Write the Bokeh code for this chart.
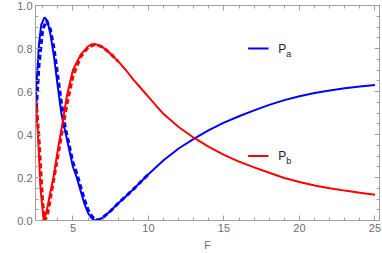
from bokeh.plotting import figure
from bokeh.models import LinearAxis, Range1d, Label, FixedTicker
from bokeh.embed import file_html
from bokeh.resources import INLINE

# ---- data ----
F_a = [2.52, 2.6, 2.75, 2.9, 3.12, 3.3, 3.5, 3.75, 4.0, 4.25, 4.5, 4.75, 5.0, 5.25, 5.5, 5.75,
       6.0, 6.25, 6.5, 6.75, 7.0, 7.5, 8.0, 8.5, 9.0, 9.5, 10, 11, 12, 13, 14, 15, 16, 17, 18,
       19, 20, 21, 22, 23, 24, 25]
Pa = [0.55, 0.65, 0.82, 0.91, 0.945, 0.93, 0.87, 0.76, 0.62, 0.49, 0.41, 0.33, 0.25, 0.20, 0.14, 0.08,
      0.035, 0.01, 0.0, 0.005, 0.015, 0.045, 0.08, 0.112, 0.145, 0.18, 0.215, 0.28, 0.335, 0.38, 0.42,
      0.455, 0.485, 0.512, 0.538, 0.56, 0.578, 0.593, 0.605, 0.615, 0.623, 0.63]

F_b = [2.52, 2.67, 2.85, 3.06, 3.25, 3.5, 3.71, 4.0, 4.3, 4.6, 5.0, 5.5, 6.0, 6.27, 6.5, 7.0, 7.5,
       8.0, 8.5, 9.0, 9.5, 10, 11, 12, 13, 14, 15, 16, 17, 18, 19, 20, 21, 22, 23, 24, 25]
Pb = [0.55, 0.42, 0.15, 0.0, 0.04, 0.13, 0.2, 0.33, 0.45, 0.58, 0.70, 0.77, 0.81, 0.82, 0.82, 0.805,
      0.775, 0.74, 0.70, 0.655, 0.615, 0.575, 0.495, 0.435, 0.385, 0.342, 0.305, 0.274, 0.247, 0.222,
      0.198, 0.179, 0.163, 0.15, 0.139, 0.129, 0.12]

F_a_dash = [2.52, 2.75, 3.0, 3.25, 3.5, 3.75, 4.0, 4.25, 4.5, 4.75, 5.0, 5.25, 5.5, 5.75, 6.0,
            6.25, 6.5, 6.75, 7.0, 7.5, 8.0, 9.0, 10.0]
Pa_dash = [0.45, 0.72, 0.89, 0.93, 0.89, 0.80, 0.67, 0.54, 0.43, 0.35, 0.27, 0.22, 0.16, 0.10, 0.05,
           0.02, 0.003, 0.003, 0.015, 0.045, 0.08, 0.145, 0.215]

F_b_dash = [2.52, 2.75, 3.0, 3.15, 3.35, 3.6, 4.0, 4.3, 4.6, 5.0, 5.5, 6.0, 6.5, 7.0, 7.5, 8.0]
Pb_dash = [0.6, 0.38, 0.08, 0.0, 0.04, 0.14, 0.3, 0.42, 0.54, 0.67, 0.76, 0.805, 0.82, 0.805, 0.775, 0.74]

x_ticks = [5, 10, 15, 20, 25]
y_ticks = [0.0, 0.2, 0.4, 0.6, 0.8, 1.0]
y_labels = ["0.0", "0.2", "0.4", "0.6", "0.8", "1.0"]
legend_names = ["P", "P"]
legend_subs = ["a", "b"]

BLUE = "#0000ff"
RED = "#ff0000"
GRAY = "#a0a0a0"
LABEL = "#6e6e6e"
FONT = "Liberation Sans"

p = figure(width=382, height=253, output_backend="svg", toolbar_location=None,
           x_range=Range1d(2.52, 25.3), y_range=Range1d(0, 1.0),
           x_axis_label="F", min_border_left=35, min_border_right=3,
           min_border_top=5, min_border_bottom=10)
p.grid.visible = False
p.outline_line_color = GRAY
p.background_fill_color = "white"
p.border_fill_color = "white"

p.line(F_a_dash, Pa_dash, color=BLUE, line_width=3, line_dash="5 3")
p.line(F_b_dash, Pb_dash, color=RED, line_width=3, line_dash="5 3")
p.line(F_a, Pa, color=BLUE, line_width=2)
p.line(F_b, Pb, color=RED, line_width=2)

# legend (manual, with subscripts)
leg_y = [0.80, 0.30]
leg_col = [BLUE, RED]
for yy, c, nm, sb in zip(leg_y, leg_col, legend_names, legend_subs):
    p.line([16.6, 17.95], [yy, yy], color=c, line_width=2)
    p.add_layout(Label(x=18.6, y=yy, text=nm, text_font=FONT, text_font_size="12px",
                       text_color="#222222", text_baseline="middle"))
    p.add_layout(Label(x=18.6, y=yy, x_offset=8, y_offset=-5, text=sb, text_font=FONT,
                       text_font_size="9px", text_color="#222222", text_baseline="middle"))

def style(ax):
    ax.axis_line_color = GRAY
    ax.major_tick_line_color = GRAY
    ax.minor_tick_line_color = GRAY
    ax.major_tick_in = 5
    ax.major_tick_out = 0
    ax.minor_tick_in = 3
    ax.minor_tick_out = 0
    ax.major_label_text_color = LABEL
    ax.major_label_text_font = FONT
    ax.major_label_text_font_size = "11px"
    ax.axis_label_text_color = LABEL
    ax.axis_label_text_font = FONT
    ax.axis_label_text_font_size = "11px"
    ax.axis_label_text_font_style = "normal"

xt = FixedTicker(ticks=x_ticks, minor_ticks=list(range(3, 26)))
yt = FixedTicker(ticks=y_ticks, minor_ticks=[i * 0.05 for i in range(0, 21)])

bx = p.xaxis[0]
bx.ticker = xt
style(bx)
bx.major_label_standoff = 3
bx.axis_label_standoff = 4
ly = p.yaxis[0]
ly.ticker = yt
ly.major_label_overrides = {t: s for t, s in zip(y_ticks, y_labels)}
style(ly)
ly.major_label_standoff = 3

top = LinearAxis(ticker=FixedTicker(ticks=x_ticks, minor_ticks=list(range(3, 26))))
style(top)
top.major_label_overrides = {t: "" for t in x_ticks}
top.major_label_standoff = 0
p.add_layout(top, "above")
right = LinearAxis(ticker=FixedTicker(ticks=y_ticks, minor_ticks=[i * 0.05 for i in range(0, 21)]))
style(right)
right.major_label_overrides = {t: "" for t in y_ticks}
right.major_label_standoff = 0
p.add_layout(right, "right")

open("out.html", "w").write(file_html(p, INLINE))
